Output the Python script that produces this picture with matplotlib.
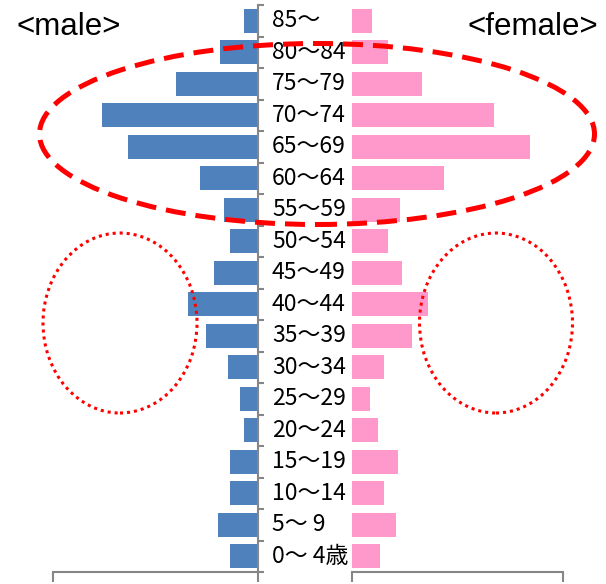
import matplotlib
matplotlib.use("Agg")
import matplotlib.pyplot as plt
from matplotlib.patches import Ellipse
from matplotlib.transforms import blended_transform_factory

# ---- data ----
age_labels = ["0～ 4歳", "5～ 9", "10～14", "15～19", "20～24", "25～29", "30～34",
              "35～39", "40～44", "45～49", "50～54", "55～59", "60～64", "65～69",
              "70～74", "75～79", "80～84", "85～"]
male = [28, 40, 28, 28, 14, 18, 30, 52, 70, 44, 28, 34, 58, 130, 156, 82, 38, 14]
female = [28, 44, 32, 46, 26, 18, 32, 60, 76, 50, 36, 48, 92, 178, 142, 70, 36, 20]
male_max = 205
female_max = 211

W, H = 606, 584
fig = plt.figure(figsize=(W / 100, H / 100), dpi=100)
fig.patch.set_facecolor("white")

gray = "#868686"
ypos = list(range(len(age_labels)))
bottom = 12 / H
height = 567 / H

axm = fig.add_axes([53 / W, bottom, (258 - 53) / W, height])
axf = fig.add_axes([352 / W, bottom, (563 - 352) / W, height])

axm.barh(ypos, male, height=0.76, color="#4F81BD", zorder=2)
axf.barh(ypos, female, height=0.76, color="#FF99CC", zorder=2)

for ax in (axm, axf):
    ax.set_ylim(-0.5, len(age_labels) - 0.5)
    ax.set_facecolor("none")
    for s in ax.spines.values():
        s.set_visible(False)
    ax.spines["bottom"].set_visible(True)
    ax.spines["bottom"].set_color(gray)
    ax.spines["bottom"].set_linewidth(1.5)
    ax.tick_params(axis="x", direction="out", length=7.2, width=1.5,
                   color=gray, labelbottom=False)

axm.set_xlim(male_max, 0)
axm.set_xticks([male_max, 0])
axf.set_xlim(0, female_max)
axf.set_xticks([0, female_max])

axm.spines["right"].set_visible(True)
axm.spines["right"].set_color(gray)
axm.spines["right"].set_linewidth(1.5)
axm.yaxis.tick_right()
axm.set_yticks([i - 0.5 for i in range(len(age_labels) + 1)])
axm.tick_params(axis="y", direction="out", length=4.3, width=1.5, color=gray,
                labelright=False, labelleft=False)
axf.set_yticks([])

# centre age labels
tr = blended_transform_factory(fig.transFigure, axm.transData)
for y, lab in zip(ypos, age_labels):
    fig.text(272 / W, y, lab, transform=tr, ha="left", va="center",
             fontsize=16.5, family=["Noto Sans CJK JP", "DejaVu Sans"], color="black")

fig.text(17 / W, 1 - 35 / H, "<male>", ha="left", va="baseline",
         fontsize=22.5, family="Liberation Sans", color="black")
fig.text(598 / W, 1 - 35 / H, "<female>", ha="right", va="baseline",
         fontsize=22.5, family="Liberation Sans", color="black")

# annotation ellipses
def fe(cx, cy, w, h, **kw):
    e = Ellipse((cx / W, 1 - cy / H), w / W, h / H, transform=fig.transFigure,
                fill=False, edgecolor="#FF0000", zorder=10, **kw)
    fig.add_artist(e)

fe(317, 134, 555, 181, linewidth=3.6, linestyle=(0, (4, 2)))
fe(120, 323, 154, 180, linewidth=2.2, linestyle=(0, (1, 1.3)))
fe(496, 323, 153, 180, linewidth=2.2, linestyle=(0, (1, 1.3)))

fig.savefig("out.png", dpi=100, facecolor="white")
